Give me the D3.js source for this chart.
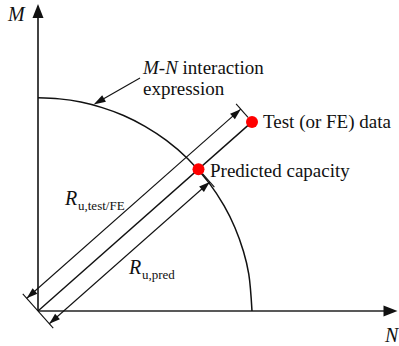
<!DOCTYPE html>
<html>
<head>
<meta charset="utf-8">
<script src="https://cdn.jsdelivr.net/npm/d3@7"></script>
<style>
  html, body { margin: 0; padding: 0; background: #fff; }
</style>
</head>
<body>
<svg id="chart" width="399" height="346"></svg>
<script>
// Normalised interaction diagram: N / N0 along x, M / M0 along y
const axisExtent = { N: 1.68, M: 1.44 };

// Points along the M-N interaction curve (N/N0, M/M0)
const curveN = [0, 0.10, 0.20, 0.30, 0.40, 0.50, 0.60, 0.70, 0.80, 0.87, 0.92, 0.96, 0.985, 1.0];
const curveM = [1, 0.995, 0.980, 0.954, 0.917, 0.866, 0.800, 0.714, 0.600, 0.493, 0.392, 0.280, 0.173, 0];

// Test / FE result and predicted capacity along the same load path
const testPoint = { N: 1.0, M: 0.887 };
const predPoint = { N: 0.75, M: 0.665 };

// Where the leader arrow touches the curve
const leaderN = 0.26;

const FONT = "'Liberation Serif', 'Times New Roman', Times, 'Nimbus Roman', serif";

const svg = d3.select("#chart");
const x = d3.scaleLinear().domain([0, axisExtent.N]).range([38, 397.5]);
const y = d3.scaleLinear().domain([0, axisExtent.M]).range([311, 4]);

const ink = "#111";

function arrowHead(g, tip, dir, len, half, color) {
  const [ux, uy] = dir;
  const bx = tip[0] - ux * len, by = tip[1] - uy * len;
  const px = -uy, py = ux;
  g.append("path")
    .attr("d", `M${tip[0]},${tip[1]}L${bx + px * half},${by + py * half}L${bx - px * half},${by - py * half}Z`)
    .attr("fill", color).attr("stroke", "none");
}
function unit(a, b) {
  const dx = b[0] - a[0], dy = b[1] - a[1];
  const l = Math.hypot(dx, dy);
  return [dx / l, dy / l];
}
function line(g, a, b, w, color) {
  g.append("line")
    .attr("x1", a[0]).attr("y1", a[1]).attr("x2", b[0]).attr("y2", b[1])
    .attr("stroke", color || ink).attr("stroke-width", w);
}
function label(px, py, size, str, italic) {
  return svg.append("text")
    .attr("x", px).attr("y", py)
    .attr("font-family", FONT).attr("font-size", size)
    .attr("font-style", italic ? "italic" : "normal")
    .attr("fill", "#111")
    .text(str);
}

// ---- axes ----
const axes = svg.append("g");
const o = [x(0), y(0)];
const mTop = [x(0), y(axisExtent.M)];
const nEnd = [x(axisExtent.N), y(0)];
line(axes, o, [mTop[0], mTop[1] + 10], 1.7, "#222");
arrowHead(axes, mTop, [0, -1], 14, 5.5, "#111");
line(axes, o, [nEnd[0] - 10, nEnd[1]], 1.7, "#222");
arrowHead(axes, nEnd, [1, 0], 14, 5.5, "#111");

label(8, 21, 20, "M", true);
label(385, 342, 20, "N", true);

// ---- interaction curve ----
const curveData = curveN.map((n, i) => [n, curveM[i]]);
svg.append("path")
  .datum(curveData)
  .attr("d", d3.line().x(d => x(d[0])).y(d => y(d[1])).curve(d3.curveCatmullRom.alpha(0.5)))
  .attr("fill", "none").attr("stroke", ink).attr("stroke-width", 1.5);

// ---- load path and dimension lines ----
const g = svg.append("g");
const pT = [x(testPoint.N), y(testPoint.M)];
const pP = [x(predPoint.N), y(predPoint.M)];
const u = unit(o, pT);
const nUL = [u[1], -u[0]];           // perpendicular, toward upper-left
const off = (p, d) => [p[0] + nUL[0] * d, p[1] + nUL[1] * d];

line(g, o, pT, 1.4);

// extension lines
line(g, off(o, -23), off(o, 23), 1.1);
line(g, off(pT, 6), off(pT, 24), 1.1);
line(g, off(pP, -6), off(pP, -24), 1.1);

// upper dimension: full test / FE resistance
const dimOff = 17;
const a1 = off(o, dimOff), b1 = off(pT, dimOff);
line(g, a1, b1, 1.1);
arrowHead(g, b1, u, 11, 3.6, ink);
arrowHead(g, a1, [-u[0], -u[1]], 11, 3.6, ink);

// lower dimension: predicted resistance
const a2 = off(o, -dimOff), b2 = off(pP, -dimOff);
line(g, a2, b2, 1.1);
arrowHead(g, b2, u, 11, 3.6, ink);
arrowHead(g, a2, [-u[0], -u[1]], 11, 3.6, ink);

// points
g.append("circle").attr("cx", pT[0]).attr("cy", pT[1]).attr("r", 6).attr("fill", "#f00");
g.append("circle").attr("cx", pP[0]).attr("cy", pP[1]).attr("r", 6).attr("fill", "#f00");

// ---- leader to curve ----
const leaderM = d3.scaleLinear().domain(curveN).range(curveM)(leaderN);
const tip = [x(leaderN), y(leaderM) - 1];
const tail = [140, 78];
const lu = unit(tail, tip);
line(g, tail, [tip[0] - lu[0] * 8, tip[1] - lu[1] * 8], 1.1);
arrowHead(g, tip, lu, 12, 3.8, ink);

// ---- labels ----
const t1 = label(143, 74, 19, "", false);
t1.append("tspan").attr("font-style", "italic").text("M");
t1.append("tspan").text("-");
t1.append("tspan").attr("font-style", "italic").text("N");
t1.append("tspan").text(" interaction");
label(143, 95, 19, "expression", false);

label(263, 128, 19, "Test (or FE) data", false);
label(210, 177, 19, "Predicted capacity", false);

label(65, 205, 20, "R", true);
label(78, 210, 13, "u,test/FE", false);
label(129, 274, 20, "R", true);
label(142, 279, 13, "u,pred", false);
</script>
</body>
</html>
